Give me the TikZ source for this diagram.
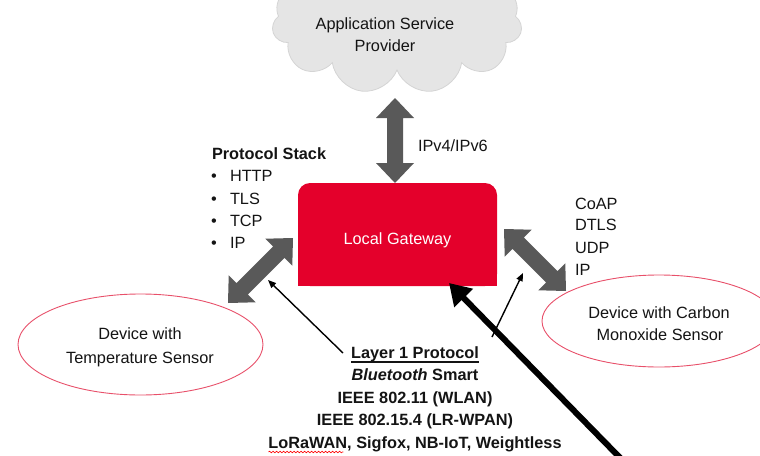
\documentclass[tikz,border=0pt]{standalone}
\usepackage{fontspec}
\setmainfont{Liberation Sans}
\usetikzlibrary{shapes.symbols,shapes.geometric,arrows.meta,calc,decorations.pathmorphing}

\definecolor{gwred}{RGB}{228,0,43}
\definecolor{arrowgray}{RGB}{89,89,89}
\definecolor{cloudfill}{RGB}{229,229,229}
\definecolor{cloudline}{RGB}{212,212,212}
\definecolor{ellline}{RGB}{232,80,106}
\definecolor{txt}{RGB}{20,20,20}

% wide grey two-headed block arrow between two named points
\newcommand\blockarrow[2]{%
  \fill[arrowgray]
    (#1) -- ($(#1)!20pt!(#2)!19pt!90:(#2)$) -- ($(#1)!20pt!(#2)!8pt!90:(#2)$)
    -- ($(#2)!20pt!(#1)!8pt!-90:(#1)$) -- ($(#2)!20pt!(#1)!19pt!-90:(#1)$)
    -- (#2) -- ($(#2)!20pt!(#1)!19pt!90:(#1)$) -- ($(#2)!20pt!(#1)!8pt!90:(#1)$)
    -- ($(#1)!20pt!(#2)!8pt!-90:(#2)$) -- ($(#1)!20pt!(#2)!19pt!-90:(#2)$) -- cycle;}

\begin{document}
\begin{tikzpicture}[x=1pt,y=-1pt,
  every node/.style={inner sep=0pt,outer sep=0pt,text=txt,
    font=\fontsize{16.3}{22}\selectfont},
  txtline/.style={anchor=base},
  leftline/.style={anchor=base west},
  boldline/.style={anchor=base,font=\fontsize{16.3}{22}\selectfont\bfseries},
  device/.style={ellipse,draw=ellline,line width=0.9pt,fill=white},
  thinarrow/.style={draw=black,line width=1.4pt,-{Triangle[length=8pt,width=6.5pt]}},
  thickarrow/.style={draw=black,line width=6pt,-{Triangle[length=21pt,width=25pt]}}]
\useasboundingbox (0,0) rectangle (760,455);
\clip (0,0) rectangle (760,455);

% cloud: application service provider
\node[cloud,cloud puffs=11,aspect=2,fill=cloudfill,draw=cloudline,line width=0.8pt,
      minimum width=250pt,minimum height=142pt] (asp) at (397,23) {};
\node[txtline] (asp1) at (385,29) {Application Service};
\node[txtline] (asp2) at (385,51) {Provider};

% local gateway, rounded on top only
\node[fill=gwred,rounded corners=12pt,minimum width=199pt,minimum height=103pt] (gw) at (397.5,234.5) {};
\fill[gwred] (gw.south west) rectangle (gw.east);
\node[txtline,text=white] (gwtext) at (397.5,244) {Local Gateway};

% devices
\node[device,minimum width=245pt,minimum height=101pt] (tdev) at (140.5,344.5) {};
\node[txtline] (tdev1) at (140,339) {Device with};
\node[txtline] (tdev2) at (140,363) {Temperature Sensor};
\node[device,minimum width=234pt,minimum height=92pt] (codev) at (659,321) {};
\node[txtline] (codev1) at (659,318) {Device with Carbon};
\node[txtline] (codev2) at (660,340) {Monoxide Sensor};

% block arrows end points
\coordinate (cloudS) at (395,98);
\coordinate (gwN) at (395,183);
\coordinate (gwW) at (293,238);
\coordinate (tdevNE) at (228,303);
\coordinate (gwE) at (504,229);
\coordinate (codevNW) at (566,291);
\blockarrow{cloudS}{gwN}
\blockarrow{gwW}{tdevNE}
\blockarrow{gwE}{codevNW}

\node[leftline] (ipv) at (418,151) {IPv4/IPv6};

% protocol stack on the left
\node[leftline,font=\fontsize{16.3}{22}\selectfont\bfseries] (ps) at (212,159) {Protocol Stack};
\foreach \t/\y [count=\i] in {HTTP/181,TLS/204,TCP/226,IP/248}{
  \node[txtline] (bul\i) at (214,\y) {•};
  \node[leftline] (ps\i) at (230,\y) {\t};
}

% constrained stack on the right
\node[leftline] (co1) at (575,209) {CoAP};
\node[leftline] (co2) at (575,230) {DTLS};
\node[leftline] (co3) at (575,253) {UDP};
\node[leftline] (co4) at (575,275) {IP};

% layer 1 protocols
\node[boldline] (l1) at (415,358) {Layer 1 Protocol};
\draw[txt,line width=1.2pt] ($(l1.base west)+(0,4)$) -- ($(l1.base east)+(0,4)$);
\node[boldline] (l2) at (415,380) {\textit{Bluetooth} Smart};
\node[boldline] (l3) at (415,403) {IEEE 802.11 (WLAN)};
\node[boldline] (l4) at (415,425) {IEEE 802.15.4 (LR-WPAN)};
\node[boldline] (l5) at (415,448) {LoRaWAN, Sigfox, NB-IoT, Weightless};
\draw[red,line width=0.6pt,decorate,decoration={snake,amplitude=0.8pt,segment length=3.5pt}]
  ($(l5.base west)+(0,4)$) -- ($(l5.base west)+(75,4)$);

% thin pointers from the layer 1 list
\coordinate (l1L) at (343,353);
\coordinate (arrL) at (268,280);
\coordinate (l1R) at (492,337);
\coordinate (arrR) at (523,273);
\draw[thinarrow] (l1L) -- (arrL);
\draw[thinarrow] (l1R) -- (arrR);

% thick pointer into the gateway
\coordinate (offpage) at (632,470);
\coordinate (gwS) at (449,283);
\draw[thickarrow] (offpage) -- (gwS);
\end{tikzpicture}
\end{document}
